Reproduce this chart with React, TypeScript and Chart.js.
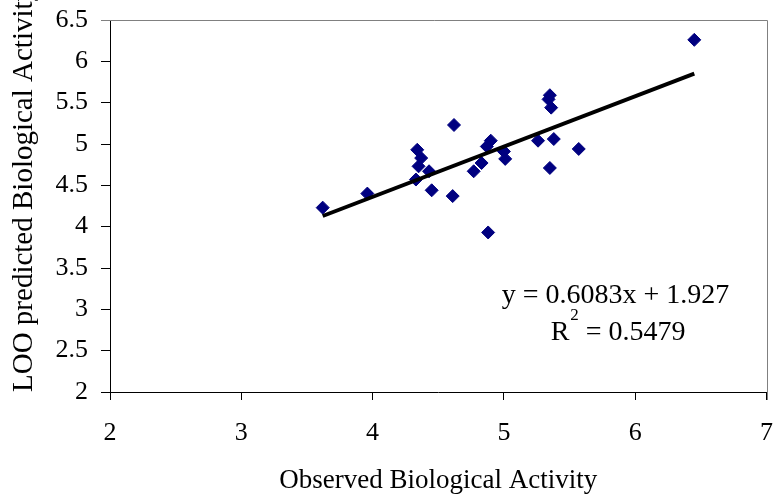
import React, { useEffect, useRef } from "react";
import { Chart, registerables } from "chart.js";

Chart.register(...registerables);

// Observed (x) and LOO predicted (y) biological activity
const observed = [3.62, 3.96, 4.34, 4.37, 4.35, 4.43, 4.33, 4.45, 4.61, 4.62, 4.77, 4.83, 4.88, 4.87, 4.9, 5.0, 5.01, 5.26, 5.35, 5.34, 5.36, 5.38, 5.35, 5.57, 6.45];
const predicted = [4.23, 4.4, 4.93, 4.83, 4.73, 4.67, 4.57, 4.44, 4.37, 5.23, 4.67, 4.77, 3.93, 4.97, 5.04, 4.91, 4.82, 5.04, 5.59, 5.54, 5.44, 5.06, 4.71, 4.94, 6.26];

// Linear trendline shown on the chart
const slope = 0.6083;
const intercept = 1.927;
const equationLabel = "y = 0.6083x + 1.927";
const r2Value = "0.5479";

// Axes
const xRange = [2, 7];
const yRange = [2, 6.5];
const xStep = 1;
const yStep = 0.5;
const xTitle = "Observed Biological Activity";
const yTitle = "LOO predicted Biological Activity";

const FONT = "'Liberation Serif', 'Times New Roman', serif";

const framePlugin = {
  id: "frameAndEquation",
  afterDraw(chart: any) {
    const { ctx, chartArea: a, scales } = chart;
    ctx.save();
    // grey plot-area frame (top and right)
    ctx.strokeStyle = "#808080";
    ctx.lineWidth = 1;
    const t = Math.round(a.top) + 0.5;
    const r = Math.round(a.right) + 0.5;
    ctx.beginPath();
    ctx.moveTo(a.left - 9, t);
    ctx.lineTo(r, t);
    ctx.lineTo(r, a.bottom + 8);
    ctx.stroke();

    // equation and R²
    ctx.fillStyle = "#000";
    ctx.textBaseline = "alphabetic";
    ctx.font = `28px ${FONT}`;
    ctx.textAlign = "center";
    const ex = scales.x.getPixelForValue(5.85);
    const ey = scales.y.getPixelForValue(3.08);
    ctx.fillText(equationLabel, ex, ey);

    const rx = scales.x.getPixelForValue(5.87);
    const ry = scales.y.getPixelForValue(2.63);
    ctx.textAlign = "left";
    ctx.font = `28px ${FONT}`;
    const wR = ctx.measureText("R").width;
    const rest = " = " + r2Value;
    const wRest = ctx.measureText(rest).width;
    ctx.font = `17px ${FONT}`;
    const wSup = ctx.measureText("2").width;
    const total = wR + wSup + wRest + 1;
    let cx = rx - total / 2;
    ctx.font = `28px ${FONT}`;
    ctx.fillText("R", cx, ry);
    cx += wR + 1;
    ctx.font = `17px ${FONT}`;
    ctx.fillText("2", cx, ry - 20);
    cx += wSup;
    ctx.font = `28px ${FONT}`;
    ctx.fillText(rest, cx, ry);
    ctx.restore();
  },
};

export default function App() {
  const ref = useRef<HTMLCanvasElement | null>(null);

  useEffect(() => {
    if (!ref.current) return;
    const points = observed.map((x, i) => ({ x, y: predicted[i] }));
    const xMin = Math.min(...observed);
    const xMax = Math.max(...observed);
    const trend = [
      { x: xMin, y: slope * xMin + intercept },
      { x: xMax, y: slope * xMax + intercept },
    ];

    const chart = new Chart(ref.current, {
      type: "scatter",
      data: {
        datasets: [
          {
            label: "Trend",
            data: trend,
            showLine: true,
            borderColor: "#000",
            borderWidth: 4,
            pointRadius: 0,
            fill: false,
          } as any,
          {
            label: "Data",
            data: points,
            pointStyle: "rectRot",
            pointRadius: 6.5,
            pointBackgroundColor: "#000080",
            pointBorderColor: "#000080",
            pointBorderWidth: 1,
          } as any,
        ],
      },
      options: {
        animation: false,
        responsive: false,
        devicePixelRatio: 1,
        layout: { padding: { top: 20, right: 5, left: 0, bottom: 0 } },
        plugins: { legend: { display: false }, tooltip: { enabled: false } },
        scales: {
          x: {
            type: "linear",
            min: xRange[0],
            max: xRange[1],
            ticks: {
              stepSize: xStep,
              color: "#000",
              font: { family: FONT, size: 26, lineHeight: 1.2 },
              padding: 18,
              maxRotation: 0,
              callback: (v: any) => String(Number(v)),
            },
            grid: {
              drawOnChartArea: false,
              drawTicks: true,
              tickLength: 8,
              tickColor: "#000",
              color: "#000",
            },
            border: { display: true, color: "#000", width: 1 },
            title: {
              display: true,
              text: xTitle,
              color: "#000",
              font: { family: FONT, size: 27, lineHeight: 1 },
              padding: 0,
            },
            afterFit(s: any) {
              s.height = 102;
              s.paddingLeft = 0;
              s.paddingRight = 0;
            },
          },
          y: {
            type: "linear",
            min: yRange[0],
            max: yRange[1],
            ticks: {
              stepSize: yStep,
              color: "#000",
              font: { family: FONT, size: 26, lineHeight: 1.2 },
              padding: 13,
              callback: (v: any) => String(Number(v)),
            },
            grid: {
              drawOnChartArea: false,
              drawTicks: true,
              tickLength: 9,
              tickColor: "#000",
              color: "#000",
            },
            border: { display: true, color: "#000", width: 1 },
            title: {
              display: true,
              text: yTitle,
              align: "start",
              color: "#000",
              font: { family: FONT, size: 29, lineHeight: 1 },
              padding: { top: 10, bottom: 0 },
            },
            afterFit(s: any) {
              s.width = 110;
              s.paddingTop = 0;
              s.paddingBottom = 0;
            },
          },
        },
      } as any,
      plugins: [framePlugin],
    });
    return () => chart.destroy();
  }, []);

  return (
    <div style={{ position: "absolute", left: 0, top: 0, width: 774, height: 494, background: "#fff" }}>
      <canvas ref={ref} width={774} height={494} style={{ display: "block" }} />
    </div>
  );
}
